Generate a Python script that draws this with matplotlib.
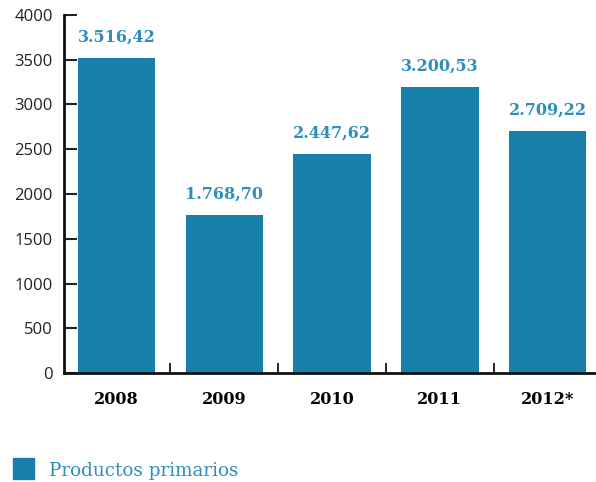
import matplotlib
matplotlib.use('Agg')
import matplotlib.pyplot as plt
from matplotlib.patches import Rectangle

# Datos: exportaciones de productos primarios
years = ['2008', '2009', '2010', '2011', '2012*']
values = [3516.42, 1768.70, 2447.62, 3200.53, 2709.22]
value_labels = ['3.516,42', '1.768,70', '2.447,62', '3.200,53', '2.709,22']
y_ticks = [0, 500, 1000, 1500, 2000, 2500, 3000, 3500, 4000]
legend_label = 'Productos primarios'

bar_color = '#1780aa'
label_color = '#2e8fbb'

fig = plt.figure(figsize=(5.96, 4.82), dpi=100)
ax = fig.add_axes([0.107, 0.226, 0.893, 0.743])

x = list(range(len(years)))
ax.bar(x, values, width=0.72, color=bar_color, zorder=2)

# etiquetas de valor sobre cada barra
for xi, v, lab in zip(x, values, value_labels):
    ax.annotate(lab, (xi, v), xytext=(0, 15), textcoords='offset points',
                ha='center', va='center', fontsize=11.5, fontweight='bold',
                family='DejaVu Serif', color=label_color)

ax.set_xlim(-0.49, 4.45)
ax.set_ylim(0, 4000)
ax.set_yticks(y_ticks)
ax.set_yticklabels([str(t) for t in y_ticks], family='Open Sans', fontsize=12)

# marcas del eje x entre las barras, etiquetas centradas bajo cada barra
ax.set_xticks([0.5, 1.5, 2.5, 3.5])
ax.set_xticklabels([])
ax.set_xticks(x, minor=True)
ax.set_xticklabels(years, minor=True, family='DejaVu Serif', fontweight='bold', fontsize=11.5)
ax.tick_params(axis='x', which='minor', length=0, pad=13)
ax.tick_params(axis='x', which='major', direction='in', length=7, width=1.2)
ax.tick_params(axis='y', direction='in', length=9, width=1.5, pad=8, colors='#222222')

for side in ['top', 'right']:
    ax.spines[side].set_visible(False)
for side in ['left', 'bottom']:
    ax.spines[side].set_linewidth(2)
    ax.spines[side].set_color('#111111')

# leyenda manual
fig.patches.append(Rectangle((0.022, 0.006), 0.035, 0.044, transform=fig.transFigure,
                             color=bar_color, figure=fig))
fig.text(0.082, 0.0115, legend_label, family='DejaVu Serif', fontsize=13.2,
         color=label_color, va='baseline', ha='left')

fig.savefig('out.png', dpi=100)
